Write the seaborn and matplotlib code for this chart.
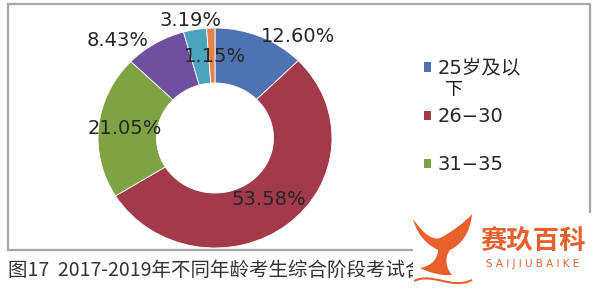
import matplotlib
matplotlib.use("Agg")
import matplotlib.pyplot as plt
import seaborn as sns
from matplotlib.patches import Rectangle, PathPatch, Patch
from matplotlib.path import Path

# ---- data ----
categories = ["25岁及以下", "26-30", "31-35", "36-40", "41-45", "46岁及以上"]
shares = [12.60, 53.58, 21.05, 8.43, 3.19, 1.15]
pct_labels = ["12.60%", "53.58%", "21.05%", "8.43%", "3.19%", "1.15%"]
legend_lines = ["25岁及以", "26\u221230", "31\u221235"]
legend_wrap = "下"
caption = "图17  2017-2019年不同年龄考生综合阶段考试合"
brand_cn = "赛玖百科"
brand_en = "S A I J I U B A I K E"

# ---- style ----
colors = ["#4F72B0", "#A33A4B", "#7FA344", "#6E4FA0", "#4BA3BE", "#E7834A"]
label_pos = [(0.71, 0.92), (0.46, -0.56), (-0.77, 0.09),
             (-0.83, 0.89), (-0.21, 1.07), (0.0, 0.74)]

sns.set_theme(style="white")
plt.rcParams['font.family'] = ['DejaVu Sans', 'Noto Sans CJK SC']

W, H = 600, 292
fig = plt.figure(figsize=(W / 100, H / 100), dpi=100)
fig.patch.set_facecolor("white")


def fx(px):
    return px / W


def fy(py):
    return 1 - py / H


# donut
ax = fig.add_axes([fx(98), fy(248), 234 / W, 220 / H])
wedges, _ = ax.pie(shares, colors=colors, startangle=90, counterclock=False,
                   wedgeprops=dict(width=0.5, edgecolor="white", linewidth=0.6))
ax.set_aspect("auto")
ax.set_xlim(-1, 1)
ax.set_ylim(-1, 1)
ax.axis("off")

for (x, y), t in zip(label_pos, pct_labels):
    ax.text(x, y, t, ha="center", va="center", fontsize=14, color="#262626",
            family=["DejaVu Sans"], zorder=5)

# legend
handles = [Patch(facecolor=c, edgecolor="none") for c in colors[:3]]
fig.legend(handles, legend_lines, loc="upper left",
           bbox_to_anchor=(fx(424), fy(59)), frameon=False,
           handlelength=0.35, handleheight=0.35, handletextpad=0.35,
           labelspacing=1.5, borderpad=0, borderaxespad=0,
           prop=dict(family=['DejaVu Sans', 'Noto Sans CJK SC'], size=14))
fig.text(fx(445), fy(90), legend_wrap, ha="left", va="center", fontsize=13,
         color="#1a1a1a", family=['Noto Sans CJK SC'])

# frame
fig.add_artist(Rectangle((fx(8), fy(250)), (590 - 8) / W, (250 - 4) / H,
                         transform=fig.transFigure, fill=False,
                         edgecolor="#a6a6a6", linewidth=1.6, zorder=1))

# caption
fig.text(fx(8), fy(270), caption, ha="left", va="center", fontsize=14,
         color="#333333", family=['Noto Sans CJK SC', 'DejaVu Sans'])

# watermark box
fig.add_artist(Rectangle((fx(413), 0), (600 - 413) / W, fy(213),
                         transform=fig.transFigure, facecolor="white",
                         edgecolor="none", zorder=5))

orange = "#E8602C"
pts = [(413, 219),
       (425, 236), (433, 240), (440, 238),
       (452, 232), (465, 222), (472, 214),
       (470, 235), (460, 245), (450, 250),
       (444, 258), (446, 268), (452, 275),
       (440, 276), (428, 272), (420, 268),
       (432, 266), (438, 258), (438, 250),
       (430, 246), (418, 238), (413, 219),
       (413, 219)]
codes = [Path.MOVETO] + [Path.CURVE4] * 21 + [Path.CLOSEPOLY]
verts = [(fx(x), fy(y)) for x, y in pts]
fig.add_artist(PathPatch(Path(verts, codes), transform=fig.transFigure,
                         facecolor=orange, edgecolor="none", zorder=6))
wave = [(414, 281), (432, 272), (452, 290), (472, 280)]
fig.add_artist(PathPatch(Path([(fx(x), fy(y)) for x, y in wave],
                              [Path.MOVETO] + [Path.CURVE4] * 3),
                         transform=fig.transFigure, facecolor="none",
                         edgecolor=orange, linewidth=1.5, zorder=6))

fig.text(fx(533), fy(242), brand_cn, ha="center", va="center", fontsize=19,
         fontweight="bold", color=orange, family=['Noto Sans CJK SC'], zorder=7)
fig.text(fx(533), fy(264), brand_en, ha="center", va="center", fontsize=7.5,
         color=orange, family=['DejaVu Sans'], zorder=7)

fig.savefig("out.png", dpi=100, facecolor="white")
